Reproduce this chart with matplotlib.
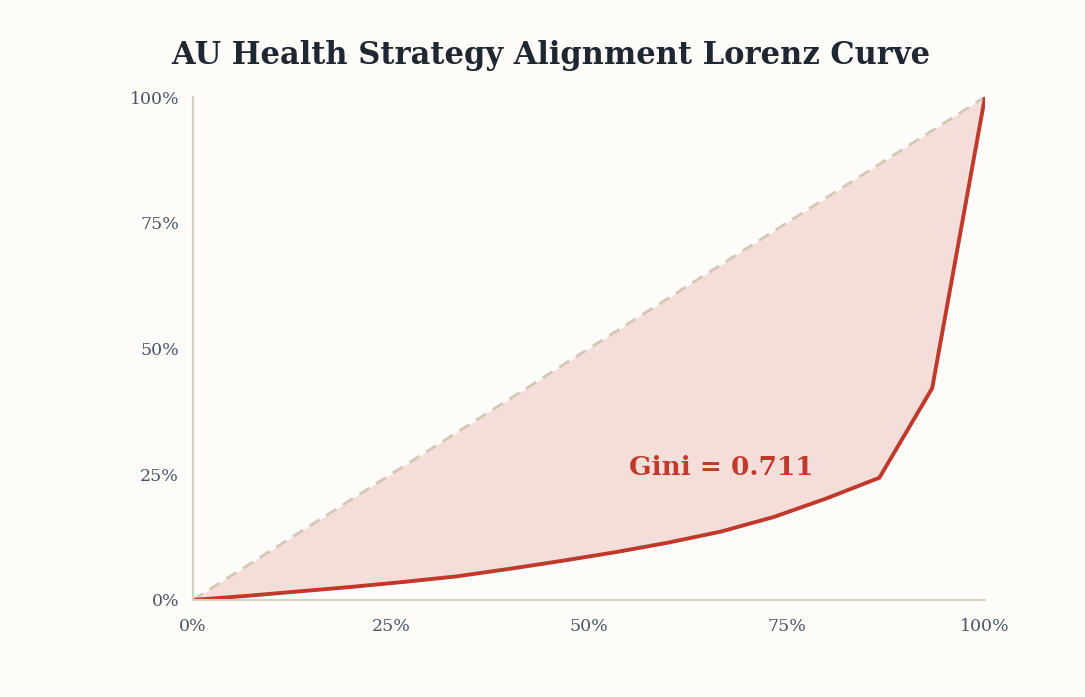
import matplotlib.pyplot as plt
from matplotlib.ticker import FuncFormatter

# cumulative share of population (15 members) vs cumulative share of alignment
popShare = [0, 1/15, 2/15, 3/15, 4/15, 5/15, 6/15, 7/15, 8/15, 9/15, 10/15, 11/15, 12/15, 13/15, 14/15, 1]
alignShare = [0, 0.008, 0.017, 0.026, 0.036, 0.047, 0.062, 0.078, 0.095, 0.114, 0.136, 0.165, 0.202, 0.243, 0.421, 1.0]
equality = [0, 1]
gini = 0.711
tickVals = [0, 0.25, 0.5, 0.75, 1.0]

bg = '#fdfcf8'
red = '#c0392b'
spineColor = '#d9d0c1'
tickColor = '#4a5568'
serif = ['DejaVu Serif']

fig = plt.figure(figsize=(10.85, 6.97), dpi=100, facecolor=bg)
ax = fig.add_axes([0.1779, 0.1392, 0.7299, 0.7216], facecolor=bg)

ax.fill_between(popShare, alignShare, popShare, color='#f5ddd9', linewidth=0)
ax.plot(equality, equality, color='#d3c7b8', linewidth=2, dashes=(4.3, 2.8))
ax.plot(popShare, alignShare, color=red, linewidth=2.8, solid_joinstyle='miter')

ax.text(0.55, 0.2485, 'Gini = %.3f' % gini, color=red, fontsize=19, fontweight='bold',
        family=serif, ha='left', va='baseline')

ax.set_xlim(0, 1)
ax.set_ylim(0, 1)
ax.set_xticks(tickVals)
ax.set_yticks(tickVals)
pct = FuncFormatter(lambda v, p: '%d%%' % round(v * 100))
ax.xaxis.set_major_formatter(pct)
ax.yaxis.set_major_formatter(pct)
ax.tick_params(axis='both', length=0, labelsize=12.5, labelcolor=tickColor)
ax.tick_params(axis='x', pad=13)
ax.tick_params(axis='y', pad=10)
for lbl in ax.get_xticklabels() + ax.get_yticklabels():
   lbl.set_family(serif)

for side in ['top', 'right']:
   ax.spines[side].set_visible(False)
for side in ['left', 'bottom']:
   ax.spines[side].set_color(spineColor)
   ax.spines[side].set_linewidth(1.5)

fig.text(0.508, 0.921, 'AU Health Strategy Alignment Lorenz Curve', ha='center', va='center',
         fontsize=22, fontweight='bold', color='#1f2733', family=serif)

fig.savefig('out.png', dpi=100, facecolor=bg)
